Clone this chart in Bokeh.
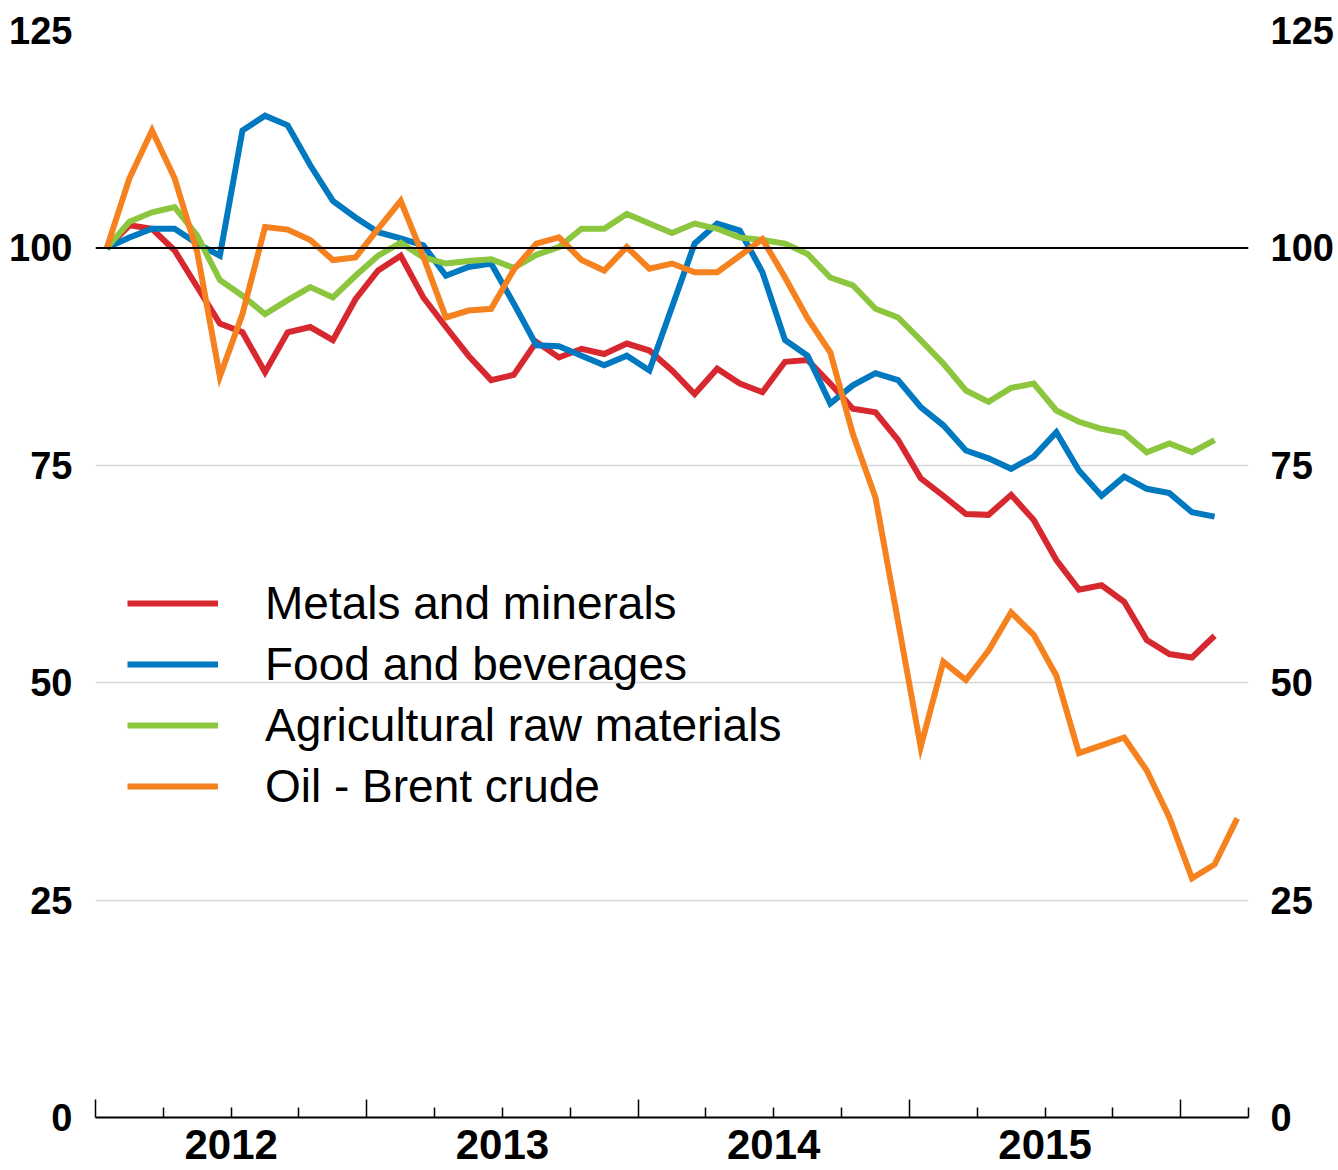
from bokeh.plotting import figure
from bokeh.models import (LinearAxis, FixedTicker, Range1d, Span, Legend, LegendItem,
                          ColumnDataSource, Grid)
from bokeh.embed import file_html
from bokeh.resources import INLINE

# ---- data (monthly index, Jan 2012 = 100) ----
year_labels = ["2012", "2013", "2014", "2015"]
y_ticks = [0, 25, 50, 75, 100, 125]

metals = [100, 102.6, 102.2, 99.7, 95.5, 91.3, 90.3, 85.7, 90.3, 90.9,
          89.4, 94.1, 97.4, 99.1, 94.3, 90.9, 87.6, 84.8, 85.4, 89.2,
          87.4, 88.4, 87.8, 89.0, 88.2, 85.9, 83.2, 86.1, 84.4, 83.4,
          86.9, 87.1, 84.4, 81.5, 81.1, 77.9, 73.5, 71.5, 69.4, 69.3,
          71.6, 68.7, 64.1, 60.7, 61.2, 59.3, 54.9, 53.3, 52.9, 55.4]

food = [100, 101.2, 102.2, 102.2, 100.5, 99.1, 113.5, 115.2, 114.1, 109.5,
        105.4, 103.5, 101.8, 101.1, 100.3, 96.8, 97.8, 98.2, 93.6, 88.8,
        88.7, 87.6, 86.5, 87.6, 85.9, 93.2, 100.5, 102.8, 102.0, 97.2,
        89.4, 87.6, 82.1, 84.2, 85.6, 84.8, 81.7, 79.6, 76.7, 75.8,
        74.6, 76.0, 78.8, 74.4, 71.5, 73.7, 72.3, 71.8, 69.6, 69.1]

agri = [100, 103.0, 104.1, 104.7, 101.4, 96.3, 94.5, 92.4, 94.0, 95.5,
        94.3, 96.8, 99.1, 100.6, 98.9, 98.2, 98.5, 98.7, 97.7, 99.2,
        100.1, 102.2, 102.2, 103.9, 102.8, 101.7, 102.8, 102.2, 101.2, 100.9,
        100.5, 99.3, 96.6, 95.7, 93.0, 92.0, 89.4, 86.7, 83.6, 82.3,
        83.9, 84.4, 81.3, 80.0, 79.2, 78.7, 76.5, 77.5, 76.5, 77.9]

oil = [100, 108.0, 113.5, 108.0, 99.5, 85.2, 92.4, 102.4, 102.1, 100.9,
       98.6, 98.9, 102.2, 105.4, 99.0, 92.0, 92.8, 93.0, 97.5, 100.5,
       101.2, 98.6, 97.4, 100.1, 97.6, 98.2, 97.2, 97.2, 99.1, 101.0,
       96.6, 91.9, 88.0, 78.6, 71.3, 57.0, 42.6, 52.4, 50.3, 53.7,
       58.1, 55.5, 50.8, 41.9, 42.8, 43.7, 39.9, 34.5, 27.5, 29.1, 34.4]

series = [
    ("Metals and minerals", metals, "#D7282F"),
    ("Food and beverages", food, "#0079C1"),
    ("Agricultural raw materials", agri, "#8CC63F"),
    ("Oil - Brent crude", oil, "#F5821F"),
]

FONT = "Liberation Sans"

p = figure(width=1336, height=1168, output_backend="svg", toolbar_location=None,
           x_range=Range1d(0, 51), y_range=Range1d(0, 125),
           x_axis_location=None, y_axis_location=None,
           min_border_left=95, min_border_right=86, min_border_top=30,
           min_border_bottom=51)
p.outline_line_color = None
p.background_fill_color = "white"
for g in list(p.grid):
    g.visible = False

# horizontal grid
p.add_layout(Grid(dimension=1, ticker=FixedTicker(ticks=[25, 50, 75, 100, 125]),
                  grid_line_color="#d6d6d6", grid_line_width=1.5))

# x axis with ticks (year boundaries tall, quarters short)
xa = LinearAxis(ticker=FixedTicker(ticks=[0, 12, 24, 36, 48],
                                   minor_ticks=[3, 6, 9, 15, 18, 21, 27, 30, 33,
                                                39, 42, 45, 51]),
                major_tick_in=18, major_tick_out=0, minor_tick_in=10, minor_tick_out=0,
                major_tick_line_width=1.5, minor_tick_line_width=1.5,
                axis_line_width=2, axis_line_color="black",
                major_label_overrides={0: "", 12: "", 24: "", 36: "", 48: ""},
                major_label_text_font_size="1px", major_label_standoff=0)
p.add_layout(xa, "below")

# x axis carrying year labels at mid-year
year_pos = [6, 18, 30, 42]
xb = LinearAxis(ticker=FixedTicker(ticks=year_pos),
                major_label_overrides={k: v for k, v in zip(year_pos, year_labels)},
                axis_line_color=None, major_tick_line_color=None,
                minor_tick_line_color=None, major_tick_in=0, major_tick_out=0,
                major_label_standoff=12, major_label_text_font=FONT,
                major_label_text_font_style="bold",
                major_label_text_font_size="42px", major_label_text_color="black")
p.add_layout(xb, "below")

for side in ("left", "right"):
    ya = LinearAxis(ticker=FixedTicker(ticks=y_ticks),
                    axis_line_color=None, major_tick_line_color=None,
                    minor_tick_line_color=None, major_tick_in=0, major_tick_out=0,
                    major_label_standoff=23 if side == "left" else 22,
                    major_label_text_font=FONT, major_label_text_font_style="bold",
                    major_label_text_font_size="38px", major_label_text_color="black")
    p.add_layout(ya, side)

items = []
for name, vals, color in series:
    src = ColumnDataSource(dict(x=[i + 0.5 for i in range(len(vals))], y=vals))
    r = p.line("x", "y", source=src, line_color=color, line_width=6, line_join="miter")
    items.append(LegendItem(label=name, renderers=[r]))

p.add_layout(Span(location=100, dimension="width", line_color="black", line_width=2))

legend = Legend(items=items, location=(32, 304), glyph_width=91, glyph_height=50,
                label_standoff=47, spacing=7, padding=0, margin=0,
                background_fill_alpha=0, border_line_alpha=0,
                label_text_font=FONT, label_text_font_size="46px",
                label_text_color="black")
p.add_layout(legend)

open("out.html", "w").write(file_html(p, INLINE))
